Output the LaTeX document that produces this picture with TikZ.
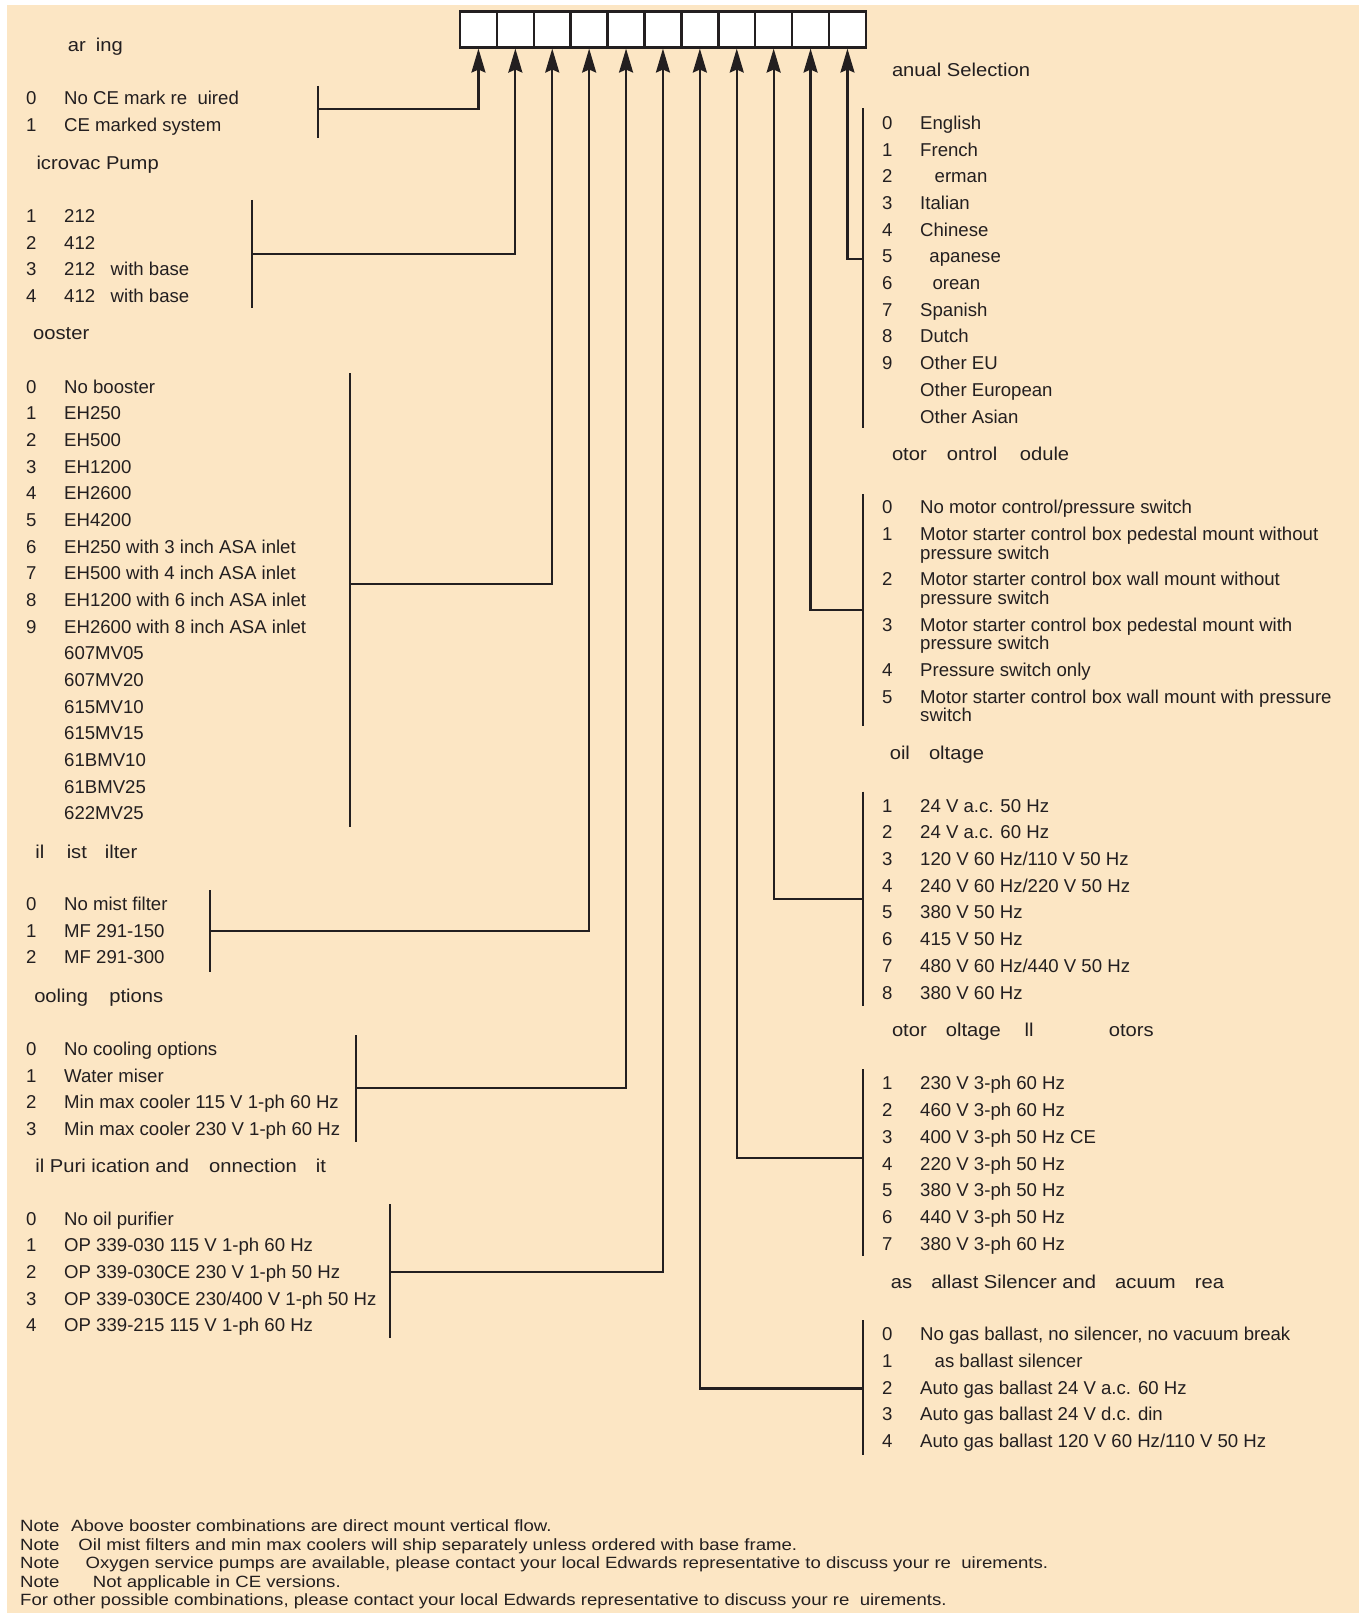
\documentclass[tikz,border=0pt]{standalone}
\usepackage{fontspec}
\setmainfont{Liberation Sans}
\newfontfamily\headfont[FakeStretch=1.085]{Liberation Sans}
\newfontfamily\notefont[FakeStretch=1.14]{Liberation Sans}
\usetikzlibrary{arrows.meta}
\definecolor{papel}{RGB}{252,230,196}
\definecolor{tinta}{RGB}{35,31,32}
\newcommand\optnum[1]{\makebox[38pt][l]{#1}}

\begin{document}
\begin{tikzpicture}[x=1pt, y=-1pt,
    every node/.style={text=tinta},
    lbl/.style={anchor=west, inner sep=0pt, text height=13.3pt, text depth=0pt, font=\fontsize{18.6}{22}\selectfont},
    head/.style={lbl, font=\headfont\fontsize{18.6}{22}\selectfont},
    nota/.style={anchor=west, inner sep=0pt, text height=11.7pt, text depth=0pt, font=\notefont\fontsize{16.3}{19}\selectfont},
    cell/.style={draw=tinta, fill=white, line width=2.5pt, minimum width=36.9pt, minimum height=36pt, inner sep=0pt},
    bar/.style={draw=tinta, line width=2.2pt},
    link/.style={draw=tinta, line width=2.2pt, -{Stealth[length=24pt, width=14pt, inset=3pt]}}]

    % Fundo
    \useasboundingbox (0,0) rectangle (1359,1613);
    \fill[papel] (7,5) rectangle (1359,1613);

    % Caixas do codigo
    \node[cell] (c1) at (478.45,29.3) {};
    \node[cell] (c2) at (515.35,29.3) {};
    \node[cell] (c3) at (552.25,29.3) {};
    \node[cell] (c4) at (589.15,29.3) {};
    \node[cell] (c5) at (626.05,29.3) {};
    \node[cell] (c6) at (662.95,29.3) {};
    \node[cell] (c7) at (699.85,29.3) {};
    \node[cell] (c8) at (736.75,29.3) {};
    \node[cell] (c9) at (773.65,29.3) {};
    \node[cell] (c10) at (810.55,29.3) {};
    \node[cell] (c11) at (847.45,29.3) {};

    % Marcacao
    \node[head] (mkH) at (67.7,45) {ar\phantom{k}ing};
    \node[lbl] (mk0) at (26,98.3) {\optnum{0}No CE mark re\phantom{q}uired};
    \node[lbl] (mk1) at (26,125) {\optnum{1}CE marked system};
    \coordinate (mkT) at (318,86);
    \coordinate (mkB) at (318,138.3);
    \coordinate (mkL) at (318,108.7);
    \draw[bar] (mkT) -- (mkB);
    \draw[link] (mkL) -| (c1.south);

    % Bomba
    \node[head] (mpH) at (19.5,163.3) {\phantom{M}icrovac Pump};
    \node[lbl] (mp1) at (26,216) {\optnum{1}212};
    \node[lbl] (mp2) at (26,242.7) {\optnum{2}412};
    \node[lbl] (mp3) at (26,269.3) {\optnum{3}212\hspace{15.5pt}with base};
    \node[lbl] (mp4) at (26,296) {\optnum{4}412\hspace{15.5pt}with base};
    \coordinate (mpT) at (252,200);
    \coordinate (mpB) at (252,308.3);
    \coordinate (mpL) at (252,254);
    \draw[bar] (mpT) -- (mpB);
    \draw[link] (mpL) -| (c2.south);

    % Booster
    \node[head] (bsH) at (19.5,333.3) {\phantom{B}ooster};
    \node[lbl] (bs0) at (26,386.7) {\optnum{0}No booster};
    \node[lbl] (bs1) at (26,413.3) {\optnum{1}EH250};
    \node[lbl] (bs2) at (26,440) {\optnum{2}EH500};
    \node[lbl] (bs3) at (26,466.7) {\optnum{3}EH1200};
    \node[lbl] (bs4) at (26,493.3) {\optnum{4}EH2600};
    \node[lbl] (bs5) at (26,520) {\optnum{5}EH4200};
    \node[lbl] (bs6) at (26,546.7) {\optnum{6}EH250 with 3 inch ASA inlet};
    \node[lbl] (bs7) at (26,573.3) {\optnum{7}EH500 with 4 inch ASA inlet};
    \node[lbl] (bs8) at (26,600) {\optnum{8}EH1200 with 6 inch ASA inlet};
    \node[lbl] (bs9) at (26,626.7) {\optnum{9}EH2600 with 8 inch ASA inlet};
    \node[lbl] (bs10) at (26,653.3) {\optnum{}607MV05};
    \node[lbl] (bs11) at (26,680) {\optnum{}607MV20};
    \node[lbl] (bs12) at (26,706.7) {\optnum{}615MV10};
    \node[lbl] (bs13) at (26,733.3) {\optnum{}615MV15};
    \node[lbl] (bs14) at (26,760) {\optnum{}61BMV10};
    \node[lbl] (bs15) at (26,786.7) {\optnum{}61BMV25};
    \node[lbl] (bs16) at (26,813.3) {\optnum{}622MV25};
    \coordinate (bsT) at (350,373.3);
    \coordinate (bsB) at (350,827.3);
    \coordinate (bsL) at (350,584);
    \draw[bar] (bsT) -- (bsB);
    \draw[link] (bsL) -| (c3.south);

    % Filtro de nevoa
    \node[head] (mfH) at (19.5,851.7) {\phantom{O}il \phantom{M}ist \phantom{F}ilter};
    \node[lbl] (mf0) at (26,904) {\optnum{0}No mist filter};
    \node[lbl] (mf1) at (26,930.7) {\optnum{1}MF 291-150};
    \node[lbl] (mf2) at (26,957.3) {\optnum{2}MF 291-300};
    \coordinate (mfT) at (210,890);
    \coordinate (mfB) at (210,971.7);
    \coordinate (mfL) at (210,930.7);
    \draw[bar] (mfT) -- (mfB);
    \draw[link] (mfL) -| (c4.south);

    % Arrefecimento
    \node[head] (clH) at (19.5,995.7) {\phantom{C}ooling \phantom{O}ptions};
    \node[lbl] (cl0) at (26,1049) {\optnum{0}No cooling options};
    \node[lbl] (cl1) at (26,1075.7) {\optnum{1}Water miser};
    \node[lbl] (cl2) at (26,1102.3) {\optnum{2}Min max cooler 115 V 1-ph 60 Hz};
    \node[lbl] (cl3) at (26,1129) {\optnum{3}Min max cooler 230 V 1-ph 60 Hz};
    \coordinate (clT) at (356,1035);
    \coordinate (clB) at (356,1141.7);
    \coordinate (clL) at (356,1088.3);
    \draw[bar] (clT) -- (clB);
    \draw[link] (clL) -| (c5.south);

    % Purificacao de oleo
    \node[head] (opH) at (19.5,1166) {\phantom{O}il Puri\phantom{f}ication and \phantom{C}onnection \phantom{K}it};
    \node[lbl] (op0) at (26,1218.7) {\optnum{0}No oil purifier};
    \node[lbl] (op1) at (26,1245.3) {\optnum{1}OP 339-030 115 V 1-ph 60 Hz};
    \node[lbl] (op2) at (26,1272) {\optnum{2}OP 339-030CE 230 V 1-ph 50 Hz};
    \node[lbl] (op3) at (26,1298.7) {\optnum{3}OP 339-030CE 230/400 V 1-ph 50 Hz};
    \node[lbl] (op4) at (26,1325.3) {\optnum{4}OP 339-215 115 V 1-ph 60 Hz};
    \coordinate (opT) at (390,1204);
    \coordinate (opB) at (390,1338.3);
    \coordinate (opL) at (390,1272);
    \draw[bar] (opT) -- (opB);
    \draw[link] (opL) -| (c6.south);

    % Manual
    \node[head] (msH) at (875,70) {\phantom{M}anual Selection};
    \node[lbl] (ms0) at (882,122.7) {\optnum{0}English};
    \node[lbl] (ms1) at (882,149.4) {\optnum{1}French};
    \node[lbl] (ms2) at (882,176.1) {\optnum{2}\phantom{G}erman};
    \node[lbl] (ms3) at (882,202.8) {\optnum{3}Italian};
    \node[lbl] (ms4) at (882,229.5) {\optnum{4}Chinese};
    \node[lbl] (ms5) at (882,256.2) {\optnum{5}\phantom{J}apanese};
    \node[lbl] (ms6) at (882,282.9) {\optnum{6}\phantom{K}orean};
    \node[lbl] (ms7) at (882,309.6) {\optnum{7}Spanish};
    \node[lbl] (ms8) at (882,336.3) {\optnum{8}Dutch};
    \node[lbl] (ms9) at (882,363) {\optnum{9}Other EU};
    \node[lbl] (ms10) at (882,389.7) {\optnum{}Other European};
    \node[lbl] (ms11) at (882,416.4) {\optnum{}Other Asian};
    \coordinate (msT) at (863,108.3);
    \coordinate (msB) at (863,428.3);
    \coordinate (msL) at (863,259);
    \draw[bar] (msT) -- (msB);
    \draw[link] (msL) -| (c11.south);

    % Controlo do motor
    \node[head] (mcH) at (875,454) {\phantom{M}otor \phantom{C}ontrol \phantom{M}odule};
    \node[lbl] (mc0) at (882,506.7) {\optnum{0}No motor control/pressure switch};
    \node[lbl] (mc1) at (882,534) {\optnum{1}Motor starter control box pedestal mount without};
    \node[lbl] (mc1b) at (920,552.7) {pressure switch};
    \node[lbl] (mc2) at (882,579) {\optnum{2}Motor starter control box wall mount without};
    \node[lbl] (mc2b) at (920,598.3) {pressure switch};
    \node[lbl] (mc3) at (882,625) {\optnum{3}Motor starter control box pedestal mount with};
    \node[lbl] (mc3b) at (920,643.3) {pressure switch};
    \node[lbl] (mc4) at (882,670) {\optnum{4}Pressure switch only};
    \node[lbl] (mc5) at (882,696.7) {\optnum{5}Motor starter control box wall mount with pressure};
    \node[lbl] (mc5b) at (920,715) {switch};
    \coordinate (mcT) at (863,494.3);
    \coordinate (mcB) at (863,725.7);
    \coordinate (mcL) at (863,610);
    \draw[bar] (mcT) -- (mcB);
    \draw[link] (mcL) -| (c10.south);

    % Tensao da bobina
    \node[head] (cvH) at (875,752.5) {\phantom{C}oil \phantom{V}oltage};
    \node[lbl] (cv1) at (882,805.5) {\optnum{1}24 V a.c. 50 Hz};
    \node[lbl] (cv2) at (882,832.2) {\optnum{2}24 V a.c. 60 Hz};
    \node[lbl] (cv3) at (882,858.9) {\optnum{3}120 V 60 Hz/110 V 50 Hz};
    \node[lbl] (cv4) at (882,885.6) {\optnum{4}240 V 60 Hz/220 V 50 Hz};
    \node[lbl] (cv5) at (882,912.3) {\optnum{5}380 V 50 Hz};
    \node[lbl] (cv6) at (882,939) {\optnum{6}415 V 50 Hz};
    \node[lbl] (cv7) at (882,965.7) {\optnum{7}480 V 60 Hz/440 V 50 Hz};
    \node[lbl] (cv8) at (882,992.4) {\optnum{8}380 V 60 Hz};
    \coordinate (cvT) at (863,791.5);
    \coordinate (cvB) at (863,1005.5);
    \coordinate (cvL) at (863,899);
    \draw[bar] (cvT) -- (cvB);
    \draw[link] (cvL) -| (c9.south);

    % Tensao do motor
    \node[head] (mvH) at (875,1030) {\phantom{M}otor \phantom{V}oltage\hspace{23.7pt}ll\hspace{75.3pt}otors};
    \node[lbl] (mv1) at (882,1083.3) {\optnum{1}230 V 3-ph 60 Hz};
    \node[lbl] (mv2) at (882,1110) {\optnum{2}460 V 3-ph 60 Hz};
    \node[lbl] (mv3) at (882,1136.7) {\optnum{3}400 V 3-ph 50 Hz CE};
    \node[lbl] (mv4) at (882,1163.4) {\optnum{4}220 V 3-ph 50 Hz};
    \node[lbl] (mv5) at (882,1190.1) {\optnum{5}380 V 3-ph 50 Hz};
    \node[lbl] (mv6) at (882,1216.8) {\optnum{6}440 V 3-ph 50 Hz};
    \node[lbl] (mv7) at (882,1243.5) {\optnum{7}380 V 3-ph 60 Hz};
    \coordinate (mvT) at (863,1069);
    \coordinate (mvB) at (863,1256);
    \coordinate (mvL) at (863,1158);
    \draw[bar] (mvT) -- (mvB);
    \draw[link] (mvL) -| (c8.south);

    % Lastro de gas
    \node[head] (gbH) at (875,1281.5) {\phantom{G}as \phantom{B}allast Silencer and \phantom{V}acuum \phantom{B}rea};
    \node[lbl] (gb0) at (882,1334) {\optnum{0}No gas ballast, no silencer, no vacuum break};
    \node[lbl] (gb1) at (882,1360.7) {\optnum{1}\phantom{G}as ballast silencer};
    \node[lbl] (gb2) at (882,1387.4) {\optnum{2}Auto gas ballast 24 V a.c. 60 Hz};
    \node[lbl] (gb3) at (882,1414.1) {\optnum{3}Auto gas ballast 24 V d.c. din};
    \node[lbl] (gb4) at (882,1440.8) {\optnum{4}Auto gas ballast 120 V 60 Hz/110 V 50 Hz};
    \coordinate (gbT) at (863,1320);
    \coordinate (gbB) at (863,1455);
    \coordinate (gbL) at (863,1388.5);
    \draw[bar] (gbT) -- (gbB);
    \draw[link] (gbL) -| (c7.south);

    % Notas
    \node[nota] (n1) at (20,1526) {Note\hspace{11.8pt}Above booster combinations are direct mount vertical flow.};
    \node[nota] (n2) at (20,1544.7) {Note\hspace{19pt}Oil mist filters and min max coolers will ship separately unless ordered with base frame.};
    \node[nota] (n3) at (20,1563) {Note\hspace{26.2pt}Oxygen service pumps are available, please contact your local Edwards representative to discuss your re\phantom{q}uirements.};
    \node[nota] (n4) at (20,1581.5) {Note\hspace{33.4pt}Not applicable in CE versions.};
    \node[nota] (n5) at (20,1600) {For other possible combinations, please contact your local Edwards representative to discuss your re\phantom{q}uirements.};
\end{tikzpicture}
\end{document}
